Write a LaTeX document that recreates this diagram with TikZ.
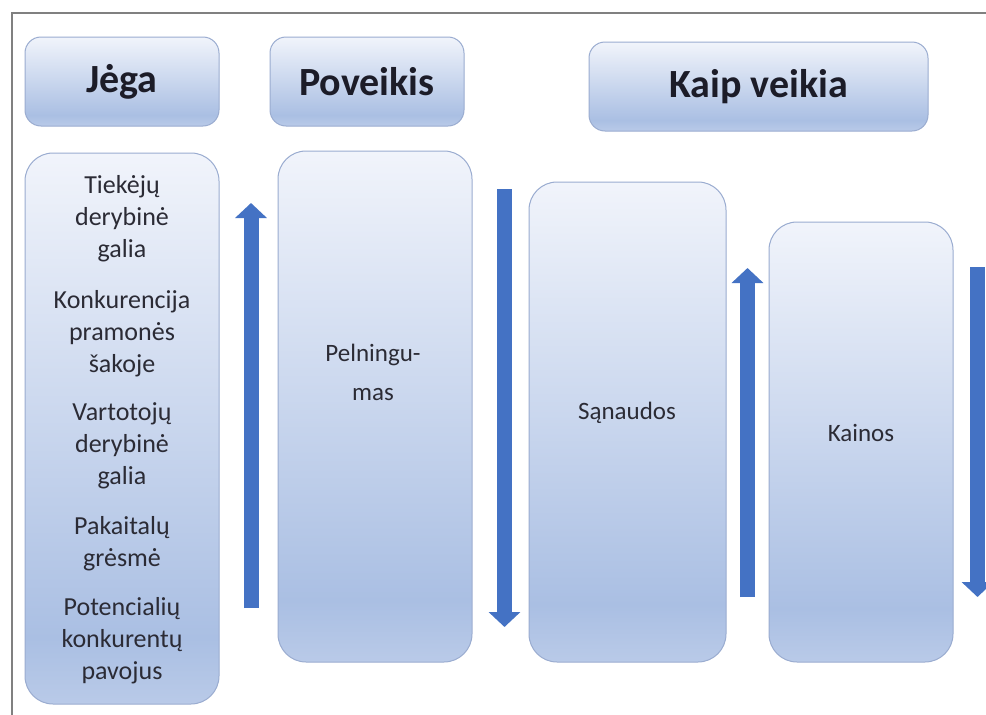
\documentclass[tikz,border=0pt]{standalone}
\usepackage{fontspec}
\setmainfont{Carlito}
\usetikzlibrary{arrows.meta,shadings}
\definecolor{arrowblue}{HTML}{4472C4}
\definecolor{boxline}{HTML}{9AACD0}
\definecolor{boxtop}{HTML}{F1F4FB}
\definecolor{boxmid}{HTML}{AABFE3}
\definecolor{boxedge}{HTML}{B9CAE8}
\definecolor{frameline}{HTML}{808080}
\definecolor{headtext}{HTML}{1C1C28}
\definecolor{bodytext}{HTML}{2B2B35}
\pgfdeclareverticalshading{boxshade}{100bp}{color(0bp)=(boxedge); color(25bp)=(boxedge); color(31bp)=(boxmid); color(75bp)=(boxtop); color(100bp)=(boxtop)}
\begin{document}
\begin{tikzpicture}[x=1pt,y=-1pt,
  headbox/.style={draw=boxline, line width=1pt, rounded corners=16pt, shading=boxshade, inner sep=0pt, text=headtext, font=\fontsize{40}{48}\selectfont\bfseries},
  bodybox/.style={draw=boxline, line width=1pt, rounded corners=28pt, shading=boxshade, inner sep=0pt},
  bodylabel/.style={text=bodytext, inner sep=0pt, align=center, anchor=base, font=\fontsize{26}{31.6}\selectfont},
  blockarrow/.style={draw=arrowblue, line width=15pt, -{Triangle[width=31pt,length=15pt]}, arrowblue}
]
\useasboundingbox (0,0) rectangle (986,715);
\clip (0,0) rectangle (986,715);
\fill[white] (0,0) rectangle (986,715);
% frame
\coordinate (fl) at (12,715);
\coordinate (fc) at (12,13);
\coordinate (fr) at (986,13);
\draw[frameline, line width=1.6pt] (fl) -- (fc) -- (fr);
% headers
\node[headbox, minimum width=194pt, minimum height=89pt] (hjega) at (122,81.5) {Jėga};
\node[headbox, minimum width=194pt, minimum height=89pt] (hpov) at (367,81.5) {Poveikis};
\node[headbox, minimum width=339pt, minimum height=89pt] (hkaip) at (758.5,86.5) {Kaip veikia};
% body boxes
\node[bodybox, minimum width=194pt, minimum height=551pt] (bjega) at (122,428.5) {};
\node[bodybox, minimum width=194pt, minimum height=511pt] (bpov) at (375,406.5) {};
\node[bodybox, minimum width=197pt, minimum height=480pt] (bsan) at (627.5,422) {};
\node[bodybox, minimum width=184pt, minimum height=440pt] (bkai) at (861,442) {};
% left texts (anchor = baseline of the last line)
\node[bodylabel] (t1) at (122,257) {Tiekėjų\\derybinė\\galia};
\node[bodylabel] (t2) at (122,372) {Konkurencija\\pramonės\\šakoje};
\node[bodylabel] (t3) at (122,484) {Vartotojų\\derybinė\\galia};
\node[bodylabel] (t4) at (122,566) {Pakaitalų\\grėsmė};
\node[bodylabel] (t5) at (122,679) {Potencialių\\konkurentų\\pavojus};
% middle texts
\node[bodylabel, font=\fontsize{25}{39}\selectfont] (tpel) at (373,400) {Pelningu-\\mas};
\node[bodylabel, font=\fontsize{25}{30}\selectfont] (tsan) at (627,419) {Sąnaudos};
\node[bodylabel, font=\fontsize{25}{30}\selectfont] (tkai) at (861,441) {Kainos};
% arrows
\coordinate (a1s) at (251,608);
\coordinate (a1e) at (251,203);
\coordinate (a2s) at (504.5,189);
\coordinate (a2e) at (504.5,627);
\coordinate (a3s) at (747.5,597);
\coordinate (a3e) at (747.5,268);
\coordinate (a4s) at (977.5,267);
\coordinate (a4e) at (977.5,597);
\draw[blockarrow] (a1s) -- (a1e);
\draw[blockarrow] (a2s) -- (a2e);
\draw[blockarrow] (a3s) -- (a3e);
\draw[blockarrow] (a4s) -- (a4e);
\end{tikzpicture}
\end{document}
